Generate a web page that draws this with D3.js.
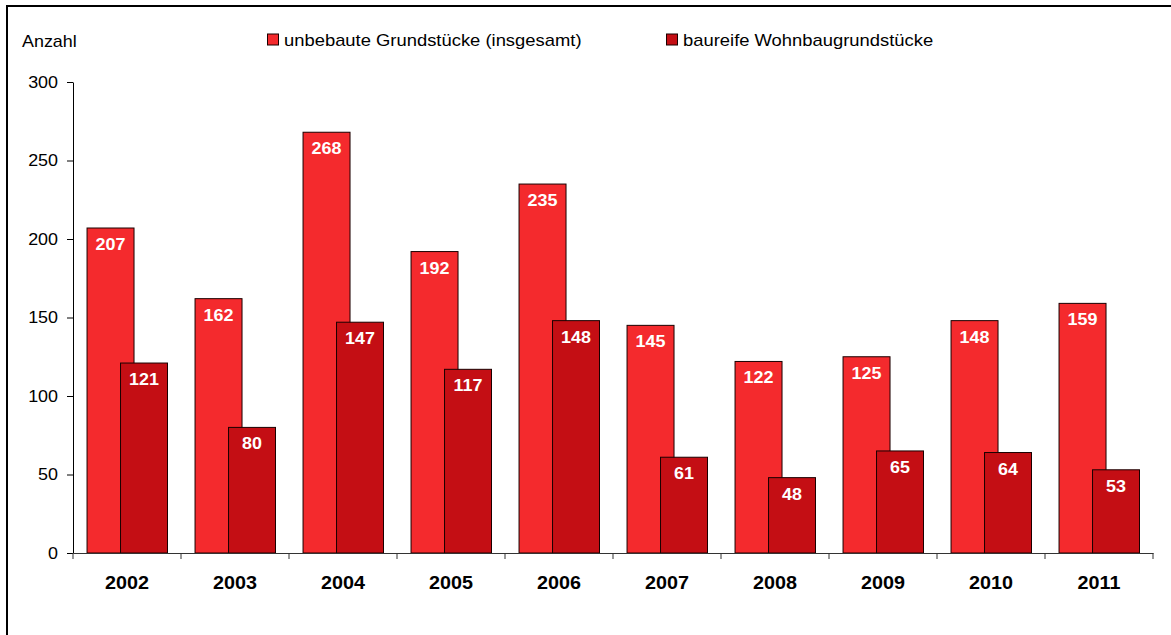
<!DOCTYPE html>
<html>
<head>
<meta charset="utf-8">
<script src="https://cdn.jsdelivr.net/npm/d3@7"></script>
<style>
  body { margin: 0; background: #fff; }
  svg { display: block; font-family: "Liberation Sans", Arial, sans-serif; }
</style>
</head>
<body>
<svg width="1171" height="635"></svg>
<script>
// chart data
const years = ['2002', '2003', '2004', '2005', '2006', '2007', '2008', '2009', '2010', '2011'];
const unbebaut = [207, 162, 268, 192, 235, 145, 122, 125, 148, 159];
const baureif = [121, 80, 147, 117, 148, 61, 48, 65, 64, 53];
const seriesNames = ['unbebaute Grundstücke (insgesamt)', 'baureife Wohnbaugrundstücke'];
const yTicks = [0, 50, 100, 150, 200, 250, 300];

const colors = ['#f42a2d', '#c40e14'];
const stretch = 1.12; // source text is a bit wide

const svg = d3.select('svg');

// frame
svg.append('rect')
  .attr('x', 7).attr('y', 6)
  .attr('width', 1180).attr('height', 650)
  .attr('fill', 'none')
  .attr('stroke', '#000')
  .attr('stroke-width', 2);

const x = d3.scaleBand().domain(years).range([73, 1153]).paddingInner(0).paddingOuter(0);
const y = d3.scaleLinear().domain([0, 300]).range([553, 82]);

const bw = x.bandwidth();
const barW = bw * 0.435;
const off1 = bw * 0.13;
const off2 = bw * 0.44;

// y axis
const yAxis = svg.append('g')
  .attr('transform', 'translate(73,0)')
  .call(d3.axisLeft(y).tickValues(yTicks).tickSize(6).tickSizeOuter(0).tickPadding(7));
yAxis.select('.domain').attr('stroke', '#000');
yAxis.selectAll('.tick line').attr('stroke', '#000');
yAxis.selectAll('text')
  .attr('font-size', 16)
  .attr('font-family', '"Liberation Sans", Arial, sans-serif')
  .attr('fill', '#000')
  .attr('transform', `scale(${stretch},1)`)
  .attr('x', -15 / stretch);

// bars
const groups = svg.selectAll('.year')
  .data(years)
  .join('g')
  .attr('class', 'year');

groups.append('rect')
  .attr('x', d => x(d) + off1)
  .attr('y', (d, i) => y(unbebaut[i]))
  .attr('width', barW)
  .attr('height', (d, i) => y(0) - y(unbebaut[i]))
  .attr('fill', colors[0])
  .attr('stroke', '#1a0000')
  .attr('stroke-width', 1);

groups.append('rect')
  .attr('x', d => x(d) + off2)
  .attr('y', (d, i) => y(baureif[i]))
  .attr('width', barW)
  .attr('height', (d, i) => y(0) - y(baureif[i]))
  .attr('fill', colors[1])
  .attr('stroke', '#1a0000')
  .attr('stroke-width', 1);

groups.append('text')
  .attr('transform', (d, i) => `translate(${x(d) + off1 + barW / 2},${y(unbebaut[i]) + 22}) scale(${stretch},1)`)
  .attr('text-anchor', 'middle')
  .attr('font-size', 16)
  .attr('font-weight', 'bold')
  .attr('fill', '#fff')
  .text((d, i) => unbebaut[i]);

groups.append('text')
  .attr('transform', (d, i) => `translate(${x(d) + off2 + barW / 2},${y(baureif[i]) + 22}) scale(${stretch},1)`)
  .attr('text-anchor', 'middle')
  .attr('font-size', 16)
  .attr('font-weight', 'bold')
  .attr('fill', '#fff')
  .text((d, i) => baureif[i]);

// x axis
const xAxis = svg.append('g')
  .attr('transform', `translate(0,${y(0)})`)
  .call(d3.axisBottom(x).tickSize(0).tickPadding(23));
xAxis.select('.domain').attr('stroke', '#333');
xAxis.selectAll('text')
  .attr('font-size', 19)
  .attr('font-weight', 'bold')
  .attr('font-family', '"Liberation Sans", Arial, sans-serif')
  .attr('fill', '#000')
  .attr('transform', 'scale(1.04,1)');

// category separators
svg.append('g')
  .selectAll('line')
  .data(years.concat(['end']))
  .join('line')
  .attr('x1', (d, i) => i < years.length ? x(d) : x(years[years.length - 1]) + bw)
  .attr('x2', (d, i) => i < years.length ? x(d) : x(years[years.length - 1]) + bw)
  .attr('y1', y(0))
  .attr('y2', y(0) + 6)
  .attr('stroke', '#333');

// y title
svg.append('text')
  .attr('transform', `translate(22,47) scale(${stretch},1)`)
  .attr('font-size', 16)
  .text('Anzahl');

// legend
const legendX = [267, 666];
const legend = svg.selectAll('.legend')
  .data(seriesNames)
  .join('g')
  .attr('class', 'legend')
  .attr('transform', (d, i) => `translate(${legendX[i]},34)`);

legend.append('rect')
  .attr('x', 0.5).attr('y', 0)
  .attr('width', 11).attr('height', 11)
  .attr('fill', (d, i) => colors[i])
  .attr('stroke', '#1a0000');

legend.append('text')
  .attr('transform', `translate(17,12) scale(1.15,1)`)
  .attr('font-size', 16)
  .text(d => d);
</script>
</body>
</html>
